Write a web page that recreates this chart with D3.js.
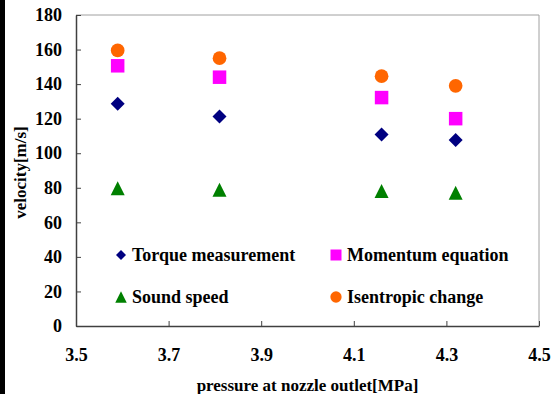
<!DOCTYPE html>
<html>
<head>
<meta charset="utf-8">
<script src="https://cdn.jsdelivr.net/npm/d3@7"></script>
<style>
  body { margin: 0; background: #fff; }
  svg { display: block; }
  svg text { font-family: "Liberation Serif", "Times New Roman", "DejaVu Serif", serif !important; font-weight: bold; fill: #000; }
</style>
</head>
<body>
<script>
// values
var pressure = [3.59, 3.81, 4.16, 4.32];
var torque   = [128.7, 121.3, 110.9, 107.6];
var momentum = [150.6, 144, 132.2, 120];
var sound    = [79.7, 78.8, 78.1, 77.1];
var isentropic = [159.5, 155, 144.6, 139];

var xTicks = [3.5, 3.7, 3.9, 4.1, 4.3, 4.5];
var yTicks = [0, 20, 40, 60, 80, 100, 120, 140, 160, 180];

var seriesNames = ['Torque measurement', 'Momentum equation', 'Sound speed', 'Isentropic change'];
var seriesValues = [torque, momentum, sound, isentropic];
var seriesColors = ['#000080', '#ff00ff', '#008000', '#ff6600'];

// excel-like markers, size = width^2
var mkDiamond = { draw: function (c, s) { var h = Math.sqrt(s) / 2; c.moveTo(0, -h); c.lineTo(h, 0); c.lineTo(0, h); c.lineTo(-h, 0); c.closePath(); } };
var mkSquare = { draw: function (c, s) { var h = Math.sqrt(s) / 2; c.rect(-h, -h, 2 * h, 2 * h); } };
var mkTriangle = { draw: function (c, s) { var h = Math.sqrt(s) / 2; c.moveTo(0, -h); c.lineTo(h, h); c.lineTo(-h, h); c.closePath(); } };
var mkCircle = { draw: function (c, s) { var r = Math.sqrt(s) / 2; c.moveTo(r, 0); c.arc(0, 0, r, 0, 2 * Math.PI); } };
var seriesSymbols = [mkDiamond, mkSquare, mkTriangle, mkCircle];
var markW = [14, 13.5, 14, 13.7];
var legW = [10, 11, 11.5, 11.3];

var W = 556, H = 394;
var pLeft = 76, pRight = 539, pTop = 15, pBottom = 326;

var svg = d3.select('body').append('svg')
    .attr('width', W)
    .attr('height', H);

// black strip on the left edge of the original image
svg.append('rect').attr('x', 0).attr('y', 0).attr('width', 5).attr('height', H).attr('fill', '#000');

var x = d3.scaleLinear().domain([3.5, 4.5]).range([pLeft, pRight]);
var y = d3.scaleLinear().domain([0, 180]).range([pBottom, pTop]);

// plot frame: light grey top & right
svg.append('path')
    .attr('d', 'M' + pLeft + ',' + pTop + 'H' + pRight + 'V' + pBottom)
    .attr('fill', 'none')
    .attr('stroke', '#a0a0a0')
    .attr('stroke-width', 1);

var xAxis = svg.append('g')
    .attr('transform', 'translate(0,' + pBottom + ')')
    .call(d3.axisBottom(x).tickValues(xTicks).tickSizeInner(-5).tickSizeOuter(0).tickPadding(22).tickFormat(d3.format('.1f')));

var yAxis = svg.append('g')
    .attr('transform', 'translate(' + pLeft + ',0)')
    .call(d3.axisLeft(y).tickValues(yTicks).tickSizeInner(-5).tickSizeOuter(0).tickPadding(14));

[xAxis, yAxis].forEach(function (a) {
    a.attr('font-family', null).attr('font-size', null);
    a.select('.domain').attr('stroke', '#404040').attr('stroke-width', 1.5);
    a.selectAll('.tick line').attr('stroke', '#404040');
    a.selectAll('.tick text').style('font-size', '18px');
});

// axis titles
svg.append('text')
    .attr('x', (pLeft + pRight) / 2)
    .attr('y', 391)
    .attr('text-anchor', 'middle')
    .style('font-size', '17px')
    .text('pressure at nozzle outlet[MPa]');

svg.append('text')
    .attr('transform', 'translate(26,' + ((pTop + pBottom) / 2 + 2) + ') rotate(-90)')
    .attr('text-anchor', 'middle')
    .style('font-size', '17px')
    .text('velocity[m/s]');

// points
seriesValues.forEach(function (vals, i) {
    svg.append('g').selectAll('path')
        .data(vals)
        .enter()
        .append('path')
            .attr('transform', function (d, j) { return 'translate(' + x(pressure[j]) + ',' + y(d) + ')'; })
            .attr('d', d3.symbol().type(seriesSymbols[i]).size(markW[i] * markW[i]))
            .attr('fill', seriesColors[i]);
});

// legend
var legX = [121, 336], legY = [255, 297];
seriesNames.forEach(function (name, i) {
    var lx = legX[i % 2], ly = legY[Math.floor(i / 2)];
    svg.append('path')
        .attr('transform', 'translate(' + lx + ',' + ly + ')')
        .attr('d', d3.symbol().type(seriesSymbols[i]).size(legW[i] * legW[i]))
        .attr('fill', seriesColors[i]);
    svg.append('text')
        .attr('x', lx + 11)
        .attr('y', ly + 6)
        .style('font-size', '18px')
        .text(name);
});
</script>
</body>
</html>
